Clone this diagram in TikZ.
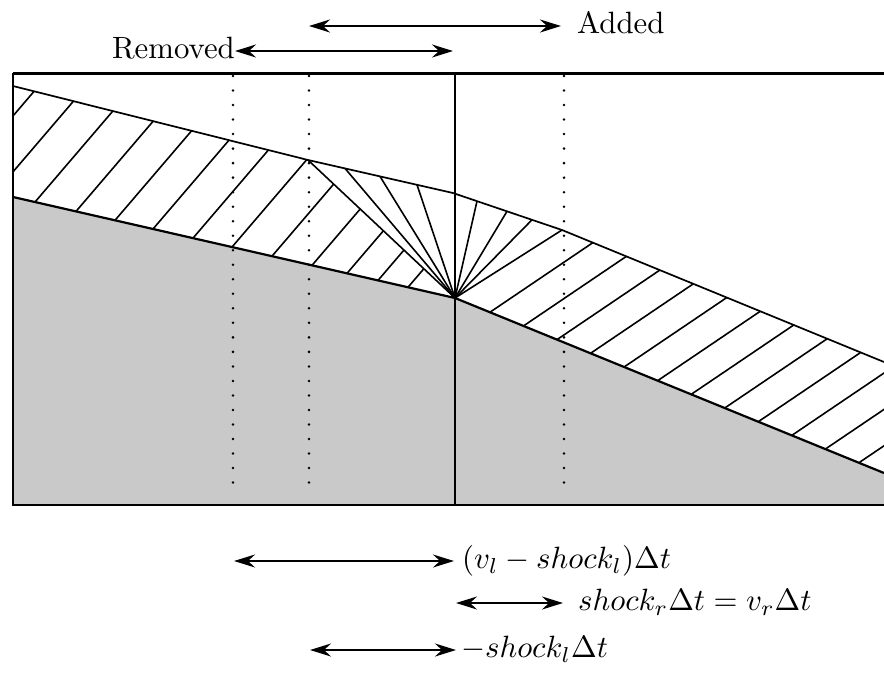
\documentclass[tikz,border=0pt]{standalone}
\usetikzlibrary{arrows.meta}
\begin{document}
\begin{tikzpicture}[x=1pt,y=-1pt,
  lbl/.style={inner sep=0pt},
  dimarrow/.style={{Stealth[length=21pt,width=13pt,inset=7pt]}-{Stealth[length=21pt,width=13pt,inset=7pt]}, line width=2.1pt},
  hatch/.style={line width=1.6pt},
  edgeline/.style={line width=1.7pt},
  dotline/.style={line width=2.8pt, line cap=round, dash pattern=on 0pt off 14.52pt},
  framel/.style={line width=2.2pt},
  shade/.style={fill=black!21}]
\useasboundingbox (0,0) rectangle (884,673);

% key points
\coordinate (ul) at (13,86);
\coordinate (ufan) at (308,160);
\coordinate (umid) at (453,193);
\coordinate (ufanr) at (562,230);
\coordinate (ur) at (884,362);
\coordinate (ll) at (13,197);
\coordinate (apex) at (455,298);
\coordinate (lr) at (884,473);

% shaded region
\fill[shade] (ll) -- (apex) -- (lr) -- (884,505) -- (13,505) -- cycle;

% left family of characteristics
\begin{scope}
  \clip (ul) -- (ufan) -- (apex) -- (ll) -- cycle;
  \foreach \xl in {-45,-5,35,76,115,153,193,232,272,312,347,378,408} {
    \pgfmathsetmacro\yl{197+0.2285*(\xl-13)}
    \draw[hatch] (\xl,\yl) -- ++(154,-180);
  }
\end{scope}

% right family of characteristics
\begin{scope}
  \clip (apex) -- (ufanr) -- (ur) -- (lr) -- cycle;
  \foreach \k in {0,...,11} {
    \pgfmathsetmacro\xr{490+33.6*\k}
    \pgfmathsetmacro\yr{298+0.406*(\xr-455)}
    \draw[hatch] (\xr,\yr) -- ++(210,-142);
  }
\end{scope}

% rarefaction fan
\foreach \a/\b in {308/160,345/168.4,380/176.4,417/184.8,477/201.1,507/211.3,532/219.8,562/230}
  \draw[hatch] (apex) -- (\a,\b);

% boundary curves
\draw[edgeline] (ul) -- (ufan) -- (umid) -- (ufanr) -- (ur);
\draw[line width=2.2pt] (ll) -- (apex) -- (lr);

% frame
\draw[line width=3pt] (13,73) -- (884,73);
\draw[framel] (13,73) -- (13,505) -- (884,505);
\draw[framel] (455,73) -- (455,505);

% dotted lines
\foreach \x in {233,309,564}
  \draw[dotline] (\x,76) -- (\x,497);

% top labels
\coordinate (a1l) at (309,26);
\coordinate (a1r) at (561,26);
\draw[dimarrow] (a1l) -- (a1r);
\node[lbl, anchor=base west] (added) at (577,33) {\scalebox{3.08}{Added}};

\coordinate (a2l) at (235,51);
\coordinate (a2r) at (453,51);
\draw[dimarrow] (a2l) -- (a2r);
\node[lbl, anchor=base east] (removed) at (235,58) {\scalebox{3.08}{Removed}};

% bottom labels
\coordinate (b1l) at (234,561);
\coordinate (b1r) at (454,561);
\draw[dimarrow] (b1l) -- (b1r);
\node[lbl, anchor=base west] (t1) at (462,568.5) {\scalebox{3.08}{$(v_l - shock_l)\Delta t$}};

\coordinate (b2l) at (456,603);
\coordinate (b2r) at (563,603);
\draw[dimarrow] (b2l) -- (b2r);
\node[lbl, anchor=base west] (t2) at (578,610.5) {\scalebox{3.08}{$shock_r\Delta t = v_r\Delta t$}};

\coordinate (b3l) at (310,650);
\coordinate (b3r) at (456,650);
\draw[dimarrow] (b3l) -- (b3r);
\node[lbl, anchor=base west] (t3) at (461,657.5) {\scalebox{3.08}{$-shock_l\Delta t$}};
\end{tikzpicture}
\end{document}
